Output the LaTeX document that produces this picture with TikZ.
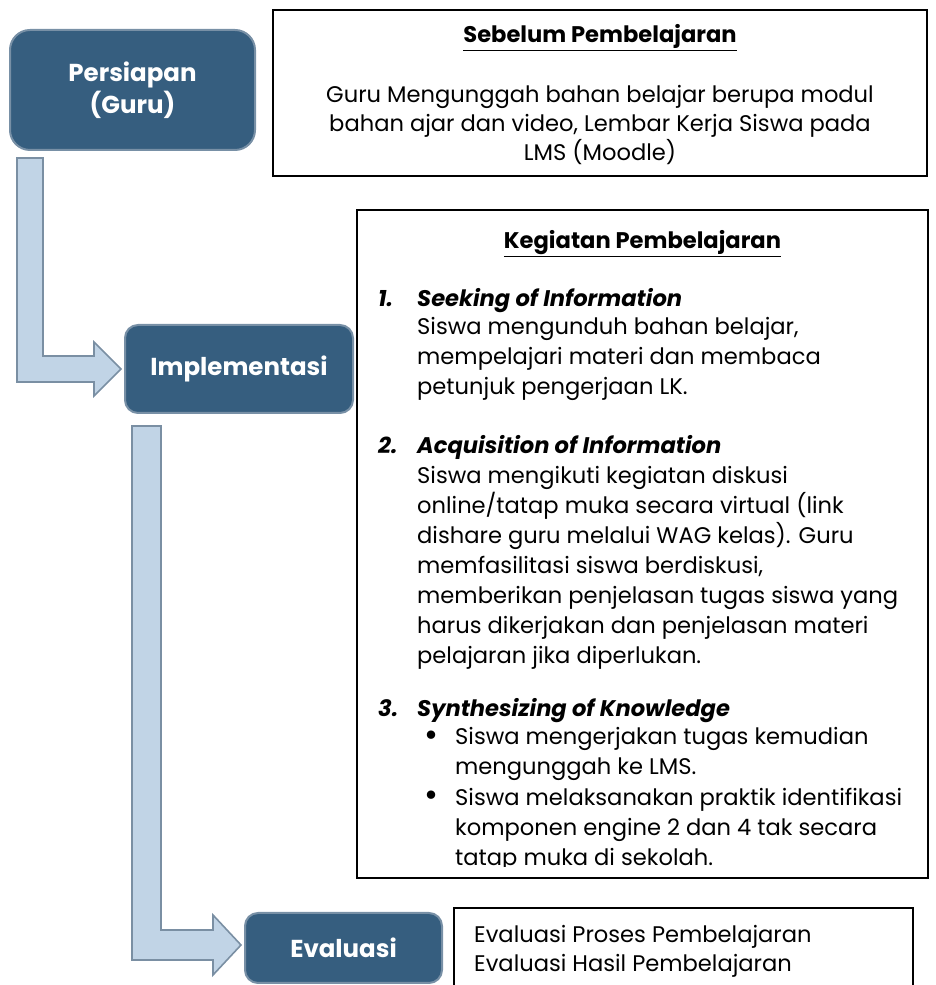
\documentclass[tikz,border=0pt]{standalone}
\usepackage{fontspec}
\setmainfont{Poppins}
\usetikzlibrary{calc}
\definecolor{phaseblue}{RGB}{54,94,127}
\definecolor{phaseedge}{RGB}{120,144,166}
\definecolor{arrowfill}{RGB}{193,212,230}
\definecolor{arrowedge}{RGB}{122,143,163}
\begin{document}
\begin{tikzpicture}[x=1pt,y=1pt,
    phase node/.style={rectangle,rounded corners=13pt,draw=phaseedge,line width=2pt,fill=phaseblue,text=white,font=\fontsize{24.5}{32}\selectfont\bfseries,align=center},
    info box/.style={rectangle,draw=black,line width=2.2pt,inner sep=0pt},
    body text/.style={anchor=base west,align=left,inner sep=0pt,font=\fontsize{22.6}{30}\selectfont},
    item text/.style={body text,font=\fontsize{22.6}{30}\selectfont\bfseries\itshape},
    bullet mark/.style={body text,font=\fontsize{34}{30}\selectfont},
    head text/.style={anchor=base,inner sep=0pt,font=\fontsize{22.6}{30}\selectfont\bfseries},
    block arrow/.style={draw=arrowedge,fill=arrowfill,line width=1.6pt,line join=miter}]
    \useasboundingbox (0,0) rectangle (935,985);

    % phases
    \node[phase node, rounded corners=20pt, minimum width=245pt, minimum height=120pt] at (132.5,895) (persiapan) {Persiapan\\(Guru)};
    \node[phase node, minimum width=228pt, minimum height=88pt] at (239,616) (implementasi) {Implementasi};
    \node[phase node, minimum width=197pt, minimum height=70pt] at (343.5,37) (evaluasi) {Evaluasi};

    % arrows between phases
    \draw[block arrow] let \p1=($(persiapan.south west)+(8,-7)$), \p2=($(implementasi.west)+(-3,0)$) in
        (\x1,\y1) -- (\x1+26,\y1) -- (\x1+26,\y2+13) -- (\x2-27,\y2+13) -- (\x2-27,\y2+27)
        -- (\x2,\y2) -- (\x2-27,\y2-27) -- (\x2-27,\y2-13) -- (\x1,\y2-13) -- cycle;
    \draw[block arrow] let \p1=($(implementasi.south west)+(8,-12)$), \p2=($(evaluasi.west)+(-3,3)$) in
        (\x1,\y1) -- (\x1+29,\y1) -- (\x1+29,\y2+15) -- (\x2-28,\y2+15) -- (\x2-28,\y2+30)
        -- (\x2,\y2) -- (\x2-28,\y2-30) -- (\x2-28,\y2-15) -- (\x1,\y2-15) -- cycle;

    % before learning (multi-line nodes sit on their last baseline)
    \node[info box, minimum width=654pt, minimum height=166pt] at (600,892) (sebelum) {};
    \node[head text] at (600,942) (sebelumtitle) {\underline{Sebelum Pembelajaran}};
    \node[body text, anchor=base, align=center, font=\fontsize{22.6}{29}\selectfont] at (600,824) (sebelumtext) {Guru Mengunggah bahan belajar berupa modul\\bahan ajar dan video, Lembar Kerja Siswa pada\\LMS (Moodle)};

    % learning activities
    \node[info box, minimum width=571pt, minimum height=668pt] at (642.5,441) (kegiatan) {};
    \node[head text] at (642.5,736) (kegiatantitle) {\underline{Kegiatan Pembelajaran}};
    \begin{scope}
        \clip (359,118) rectangle (926,774);
        \node[item text] at (378,678) (num1) {1.};
        \node[item text] at (417,678) (seeking) {Seeking of Information};
        \node[body text] at (417,590) (seekingtext) {Siswa mengunduh bahan belajar,\\mempelajari materi dan membaca\\petunjuk pengerjaan LK.};
        \node[item text] at (378,531) (num2) {2.};
        \node[item text] at (417,531) (acquisition) {Acquisition of Information};
        \node[body text] at (417,321) (acquisitiontext) {Siswa mengikuti kegiatan diskusi\\online/tatap muka secara virtual (link\\dishare guru melalui WAG kelas). Guru\\memfasilitasi siswa berdiskusi,\\memberikan penjelasan tugas siswa yang\\harus dikerjakan dan penjelasan materi\\pelajaran jika diperlukan.};
        \node[item text] at (378,268) (num3) {3.};
        \node[item text] at (417,268) (synthesizing) {Synthesizing of Knowledge};
        \node[bullet mark] at (424,238) (bullet1) {\textbullet};
        \node[body text] at (455,210) (synthtext1) {Siswa mengerjakan tugas kemudian\\mengunggah ke LMS.};
        \node[bullet mark] at (424,178) (bullet2) {\textbullet};
        \node[body text] at (455,119) (synthtext2) {Siswa melaksanakan praktik identifikasi\\komponen engine 2 dan 4 tak secara\\tatap muka di sekolah.};
    \end{scope}

    % evaluation
    \node[info box, anchor=north west, minimum width=459pt, minimum height=100pt] at (453,78) (evalbox) {};
    \node[body text, font=\fontsize{22.6}{29}\selectfont] at (474,13) (evaltext) {Evaluasi Proses Pembelajaran\\Evaluasi Hasil Pembelajaran};
\end{tikzpicture}
\end{document}
